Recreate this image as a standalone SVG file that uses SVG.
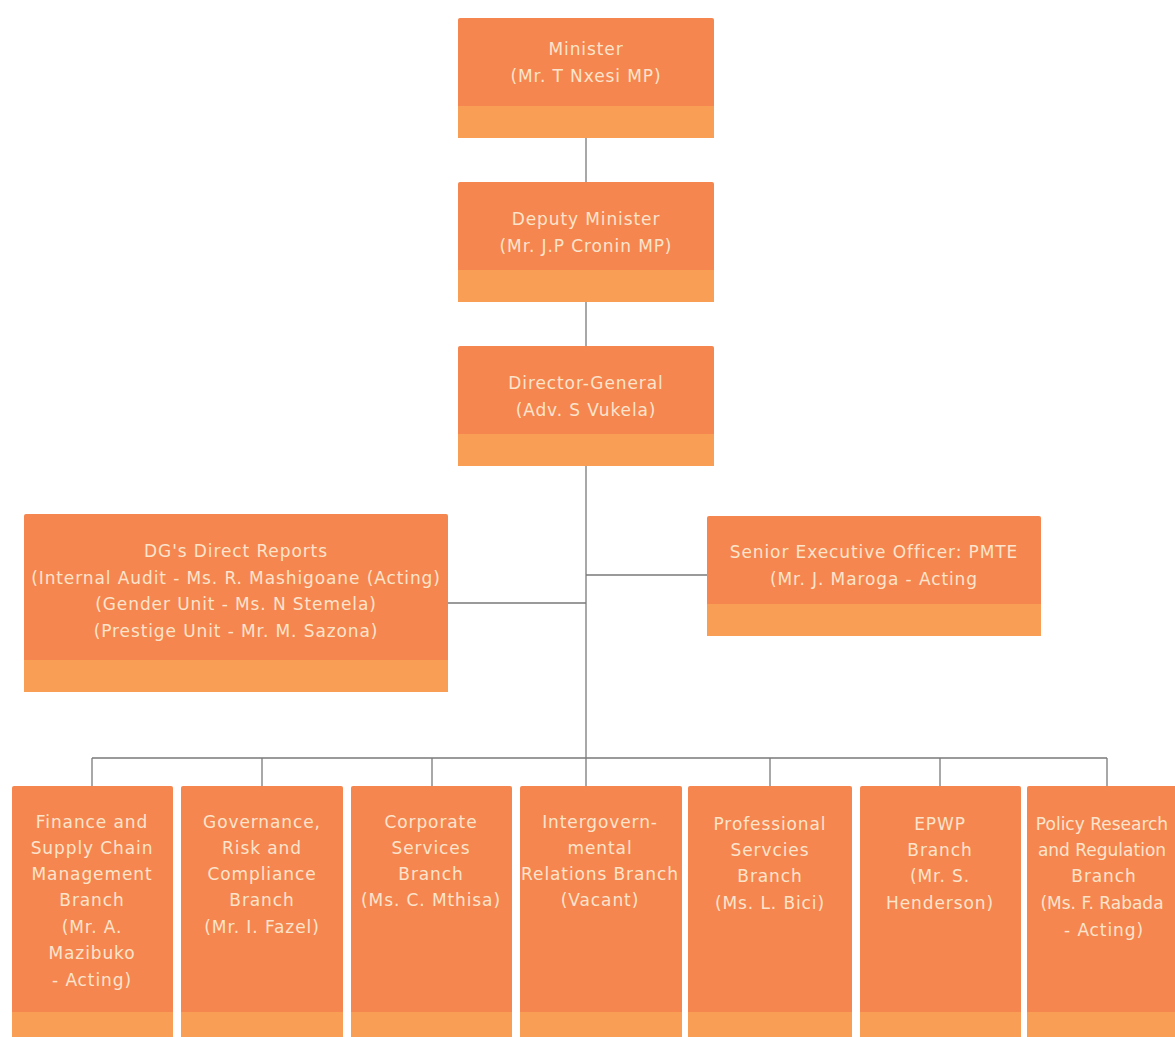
<svg xmlns="http://www.w3.org/2000/svg" width="1175" height="1037" viewBox="0 0 1175 1037">
<style>
.box{fill:#F6864F}
.band{fill:#F99E55}
.t{font-family:"DejaVu Sans","Liberation Sans",sans-serif;font-size:17px;letter-spacing:0.9px;fill:#FCE4CC;text-anchor:middle}
.tn{letter-spacing:0px}
.c{stroke:#7a7a7a;stroke-width:1.3;fill:none}
</style>
<rect width="1175" height="1037" fill="#ffffff"/>
<g id="connectors">
<path class="c" d="M586 138V182M586 302V346M586 466V758M448 603H586M586 575H707M92 758H1107M92 758V786M262 758V786M432 758V786M586 758V786M770 758V786M940 758V786M1107 758V786"/>
</g>
<g id="minister">
<rect class="box" x="458" y="18" width="256" height="120" rx="2"/>
<rect class="band" x="458" y="106" width="256" height="32"/>
<text class="t" x="586" y="55">Minister</text>
<text class="t" x="586" y="82">(Mr. T Nxesi MP)</text>
</g>
<g id="deputy">
<rect class="box" x="458" y="182" width="256" height="120" rx="2"/>
<rect class="band" x="458" y="270" width="256" height="32"/>
<text class="t" x="586" y="225">Deputy Minister</text>
<text class="t" x="586" y="252">(Mr. J.P Cronin MP)</text>
</g>
<g id="dg">
<rect class="box" x="458" y="346" width="256" height="120" rx="2"/>
<rect class="band" x="458" y="434" width="256" height="32"/>
<text class="t" x="586" y="389">Director-General</text>
<text class="t" x="586" y="416">(Adv. S Vukela)</text>
</g>
<g id="dg-direct">
<rect class="box" x="24" y="514" width="424" height="178" rx="2"/>
<rect class="band" x="24" y="660" width="424" height="32"/>
<text class="t" x="236" y="557">DG's Direct Reports</text>
<text class="t" x="236" y="584">(Internal Audit - Ms. R. Mashigoane (Acting)</text>
<text class="t" x="236" y="610">(Gender Unit - Ms. N Stemela)</text>
<text class="t" x="236" y="637">(Prestige Unit - Mr. M. Sazona)</text>
</g>
<g id="seo">
<rect class="box" x="707" y="516" width="334" height="120" rx="2"/>
<rect class="band" x="707" y="604" width="334" height="32"/>
<text class="t" x="874" y="558">Senior Executive Officer: PMTE</text>
<text class="t" x="874" y="585">(Mr. J. Maroga - Acting</text>
</g>
<g id="finance">
<rect class="box" x="12" y="786" width="161" height="260" rx="2"/>
<rect class="band" x="12" y="1012" width="161" height="30"/>
<text class="t" x="92" y="828">Finance and</text>
<text class="t" x="92" y="854">Supply Chain</text>
<text class="t" x="92" y="880">Management</text>
<text class="t" x="92" y="906">Branch</text>
<text class="t" x="92" y="933">(Mr. A.</text>
<text class="t" x="92" y="959">Mazibuko</text>
<text class="t" x="92" y="986">- Acting)</text>
</g>
<g id="governance">
<rect class="box" x="181" y="786" width="162" height="260" rx="2"/>
<rect class="band" x="181" y="1012" width="162" height="30"/>
<text class="t" x="262" y="828">Governance,</text>
<text class="t" x="262" y="854">Risk and</text>
<text class="t" x="262" y="880">Compliance</text>
<text class="t" x="262" y="906">Branch</text>
<text class="t" x="262" y="933">(Mr. I. Fazel)</text>
</g>
<g id="corporate">
<rect class="box" x="351" y="786" width="161" height="260" rx="2"/>
<rect class="band" x="351" y="1012" width="161" height="30"/>
<text class="t" x="431" y="828">Corporate</text>
<text class="t" x="431" y="854">Services</text>
<text class="t" x="431" y="880">Branch</text>
<text class="t" x="431" y="906">(Ms. C. Mthisa)</text>
</g>
<g id="igr">
<rect class="box" x="520" y="786" width="162" height="260" rx="2"/>
<rect class="band" x="520" y="1012" width="162" height="30"/>
<text class="t" x="600" y="828">Intergovern-</text>
<text class="t" x="600" y="854">mental</text>
<text class="t" x="600" y="880">Relations Branch</text>
<text class="t" x="600" y="906">(Vacant)</text>
</g>
<g id="professional">
<rect class="box" x="688" y="786" width="164" height="260" rx="2"/>
<rect class="band" x="688" y="1012" width="164" height="30"/>
<text class="t" x="770" y="830">Professional</text>
<text class="t" x="770" y="856">Servcies</text>
<text class="t" x="770" y="882">Branch</text>
<text class="t" x="770" y="909">(Ms. L. Bici)</text>
</g>
<g id="epwp">
<rect class="box" x="860" y="786" width="161" height="260" rx="2"/>
<rect class="band" x="860" y="1012" width="161" height="30"/>
<text class="t" x="940" y="830">EPWP</text>
<text class="t" x="940" y="856">Branch</text>
<text class="t" x="940" y="882">(Mr. S.</text>
<text class="t" x="940" y="909">Henderson)</text>
</g>
<g id="policy">
<rect class="box" x="1027" y="786" width="170" height="260" rx="2"/>
<rect class="band" x="1027" y="1012" width="170" height="30"/>
<text class="t tn" x="1102" y="830">Policy Research</text>
<text class="t tn" x="1102" y="856">and Regulation</text>
<text class="t" x="1104" y="882">Branch</text>
<text class="t tn" x="1102" y="909">(Ms. F. Rabada</text>
<text class="t" x="1104" y="936">- Acting)</text>
</g>
</svg>
